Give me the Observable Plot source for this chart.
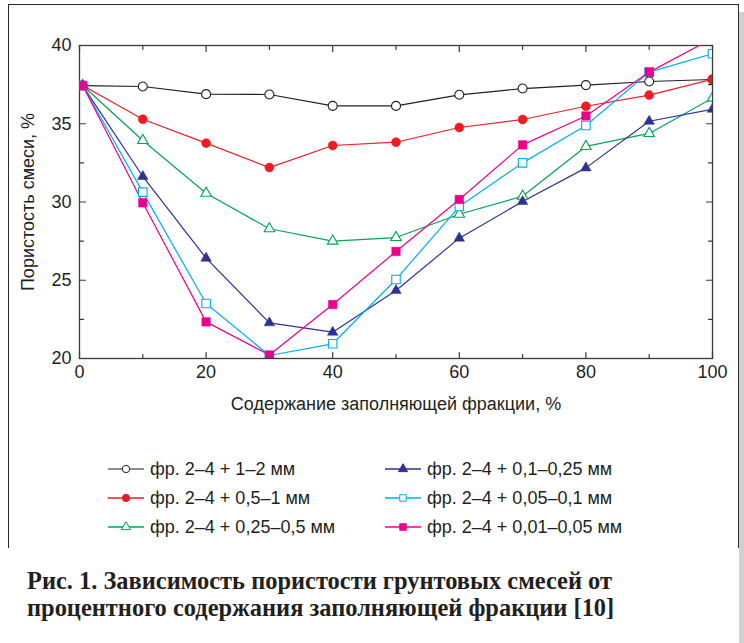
<!DOCTYPE html>
<html><head><meta charset="utf-8">
<script src="https://cdn.jsdelivr.net/npm/d3@7"></script>
<script src="https://cdn.jsdelivr.net/npm/@observablehq/plot@0.6"></script>
<style>
body{margin:0;background:#fff;}
#wrap{position:relative;width:744px;height:643px;overflow:hidden;background:#fff;font-family:"Liberation Sans",Arial,sans-serif;color:#231f20;}
#frame{position:absolute;left:8px;top:4px;width:731px;height:544px;border:1.6px solid #2b2b2b;border-bottom:none;box-sizing:border-box;}
#shadow{position:absolute;left:739px;top:12px;width:5px;height:631px;background:#cfcfcf;}
#chart{position:absolute;left:0;top:0;}
#chart svg text{font-size:18px !important;fill:#231f20;}
#legend{position:absolute;left:0;top:0;width:744px;height:560px;}
.item{position:absolute;display:flex;align-items:center;font-size:18px;white-space:nowrap;height:22px;}
.item svg{margin-right:6px;}
#caption{position:absolute;left:27px;top:567px;font-family:"Liberation Serif","Times New Roman",serif;font-weight:bold;font-size:26px;line-height:27px;color:#231f20;}
#caption div{transform-origin:0 0;white-space:nowrap;height:27px;}
</style></head>
<body>
<div id="wrap">
  <div id="frame"></div>
  <div id="shadow"></div>
  <div id="chart"></div>
  <div id="legend"></div>
  <div id="caption"></div>
</div>
<script>
const xValues = [0.5, 10, 20, 30, 40, 50, 60, 70, 80, 90, 100];
const seriesNames = [
  "фр. 2–4 + 1–2 мм",
  "фр. 2–4 + 0,5–1 мм",
  "фр. 2–4 + 0,25–0,5 мм",
  "фр. 2–4 + 0,1–0,25 мм",
  "фр. 2–4 + 0,05–0,1 мм",
  "фр. 2–4 + 0,01–0,05 мм"
];
const s1 = [37.44, 37.38, 36.89, 36.87, 36.14, 36.14, 36.85, 37.25, 37.47, 37.70, 37.83];
const s2 = [37.44, 35.29, 33.76, 32.20, 33.61, 33.82, 34.76, 35.27, 36.12, 36.83, 37.85];
const s3 = [37.44, 33.93, 30.56, 28.29, 27.50, 27.73, 29.22, 30.37, 33.55, 34.38, 36.64];
const s4 = [37.44, 31.63, 26.41, 22.28, 21.68, 24.34, 27.69, 30.03, 32.18, 35.16, 35.93];
const s5 = [37.44, 30.63, 23.51, 20.19, 20.94, 25.05, 29.71, 32.50, 34.89, 38.30, 39.47];
const s6 = [37.44, 29.95, 22.34, 20.22, 23.45, 26.84, 30.16, 33.65, 35.50, 38.30, 40.45];
const seriesValues = [s1, s2, s3, s4, s5, s6];
const colors = ["#231f20", "#ed1c24", "#00a651", "#2e3192", "#00aeef", "#ec008c"];
const symbols = ["circle", "circle", "triangle", "triangle", "square", "square"];
const filled = [false, true, false, true, false, true];
const xTickLabels = [0, 20, 40, 60, 80, 100];
const yTickLabels = [20, 25, 30, 35, 40];
const xMinorTicks = [10, 30, 50, 70, 90];
const yMinorTicks = [22.5, 27.5, 32.5, 37.5];
const captionLines = [
  "Рис. 1. Зависимость пористости грунтовых смесей от",
  "процентного содержания заполняющей фракции [10]"
];

const rows = [];
seriesValues.forEach((vals, si) => vals.forEach((v, i) => rows.push({series: si, x: xValues[i], y: v})));

const tickShape = {draw(ctx, l) { ctx.moveTo(0, 0); ctx.lineTo(0, -l); }};
const axisStroke = "#3a3a3a";
function ticks(data, fixed, along, rotate, len) {
  return Plot.vector(data, {
    x: along === "x" ? d => d : () => fixed,
    y: along === "x" ? () => fixed : d => d,
    length: len, rotate, anchor: "start", shape: tickShape,
    stroke: axisStroke, strokeWidth: 1.2
  });
}

const marks = [
  Plot.frame({stroke: axisStroke, strokeWidth: 1.3}),
  ticks(xTickLabels, 20, "x", 0, 6), ticks(xMinorTicks, 20, "x", 0, 4),
  ticks(xTickLabels, 40, "x", 180, 6), ticks(xMinorTicks, 40, "x", 180, 4),
  ticks(yTickLabels, 0, "y", 90, 6), ticks(yMinorTicks, 0, "y", 90, 4),
  ticks(yTickLabels, 100, "y", -90, 6), ticks(yMinorTicks, 100, "y", -90, 4),
  Plot.axisX({ticks: xTickLabels, tickSize: 0, tickPadding: 7, fontSize: 18,
    label: "Содержание заполняющей фракции, %", labelAnchor: "center", labelOffset: 51, labelArrow: "none"}),
  Plot.axisY({ticks: yTickLabels, tickSize: 0, tickPadding: 8, fontSize: 18,
    label: "Пористость смеси, %", labelAnchor: "center", labelOffset: 58, labelArrow: "none"})
];
seriesValues.forEach((vals, si) => {
  marks.push(Plot.line(rows.filter(r => r.series === si), {x: "x", y: "y", stroke: colors[si], strokeWidth: 1.2, clip: true}));
});
seriesValues.forEach((vals, si) => {
  marks.push(Plot.dot(rows.filter(r => r.series === si), {
    x: "x", y: "y", symbol: () => symbols[si],
    r: symbols[si] === "triangle" ? 3.9 : (symbols[si] === "square" ? 4.8 : 4.5),
    fill: filled[si] ? colors[si] : "white",
    stroke: colors[si], strokeWidth: filled[si] ? 0.5 : 1.1, clip: true
  }));
});

const chart = Plot.plot({
  width: 744, height: 420,
  marginLeft: 79, marginRight: 32, marginTop: 45, marginBottom: 62,
  style: {fontFamily: "Liberation Sans, Arial, sans-serif", fontSize: "18px", color: "#231f20", background: "transparent", overflow: "visible"},
  x: {domain: [0, 100]},
  y: {domain: [20, 40]},
  symbol: {type: "identity"},
  marks
});
document.getElementById("chart").appendChild(chart);

// Legend
const legend = document.getElementById("legend");
const legendCols = [108, 385];
const legendRows = [469, 498, 527];
function swatch(si) {
  const ns = "http://www.w3.org/2000/svg";
  const svg = document.createElementNS(ns, "svg");
  svg.setAttribute("width", 36); svg.setAttribute("height", 14);
  const line = document.createElementNS(ns, "line");
  line.setAttribute("x1", 0); line.setAttribute("x2", 36); line.setAttribute("y1", 7); line.setAttribute("y2", 7);
  line.setAttribute("stroke", si === 0 ? "#666" : colors[si]); line.setAttribute("stroke-width", 1.3);
  svg.appendChild(line);
  const p = document.createElementNS(ns, "path");
  p.setAttribute("transform", "translate(18,7)");
  const sym = symbols[si] === "circle" ? d3.symbolCircle : symbols[si] === "triangle" ? d3.symbolTriangle : d3.symbolSquare;
  p.setAttribute("d", d3.symbol(sym, symbols[si] === "triangle" ? 36 : 42)());
  p.setAttribute("fill", filled[si] ? colors[si] : "white");
  p.setAttribute("stroke", colors[si]); p.setAttribute("stroke-width", 1);
  svg.appendChild(p);
  return svg;
}
seriesNames.forEach((name, si) => {
  const col = Math.floor(si / 3), row = si % 3;
  const d = document.createElement("div");
  d.className = "item";
  d.style.left = legendCols[col] + "px";
  d.style.top = (legendRows[row] - 11) + "px";
  d.appendChild(swatch(si));
  const t = document.createElement("span"); t.textContent = name; d.appendChild(t);
  legend.appendChild(d);
});

// Caption
const cap = document.getElementById("caption");
captionLines.forEach(txt => {
  const d = document.createElement("div"); d.textContent = txt; cap.appendChild(d);
});
const first = cap.firstChild;
const range = document.createRange();
range.selectNodeContents(first);
const w = range.getBoundingClientRect().width;
const sx = 585 / w;
cap.querySelectorAll("div").forEach(d => d.style.transform = `scaleX(${sx})`);
</script>
</body></html>
